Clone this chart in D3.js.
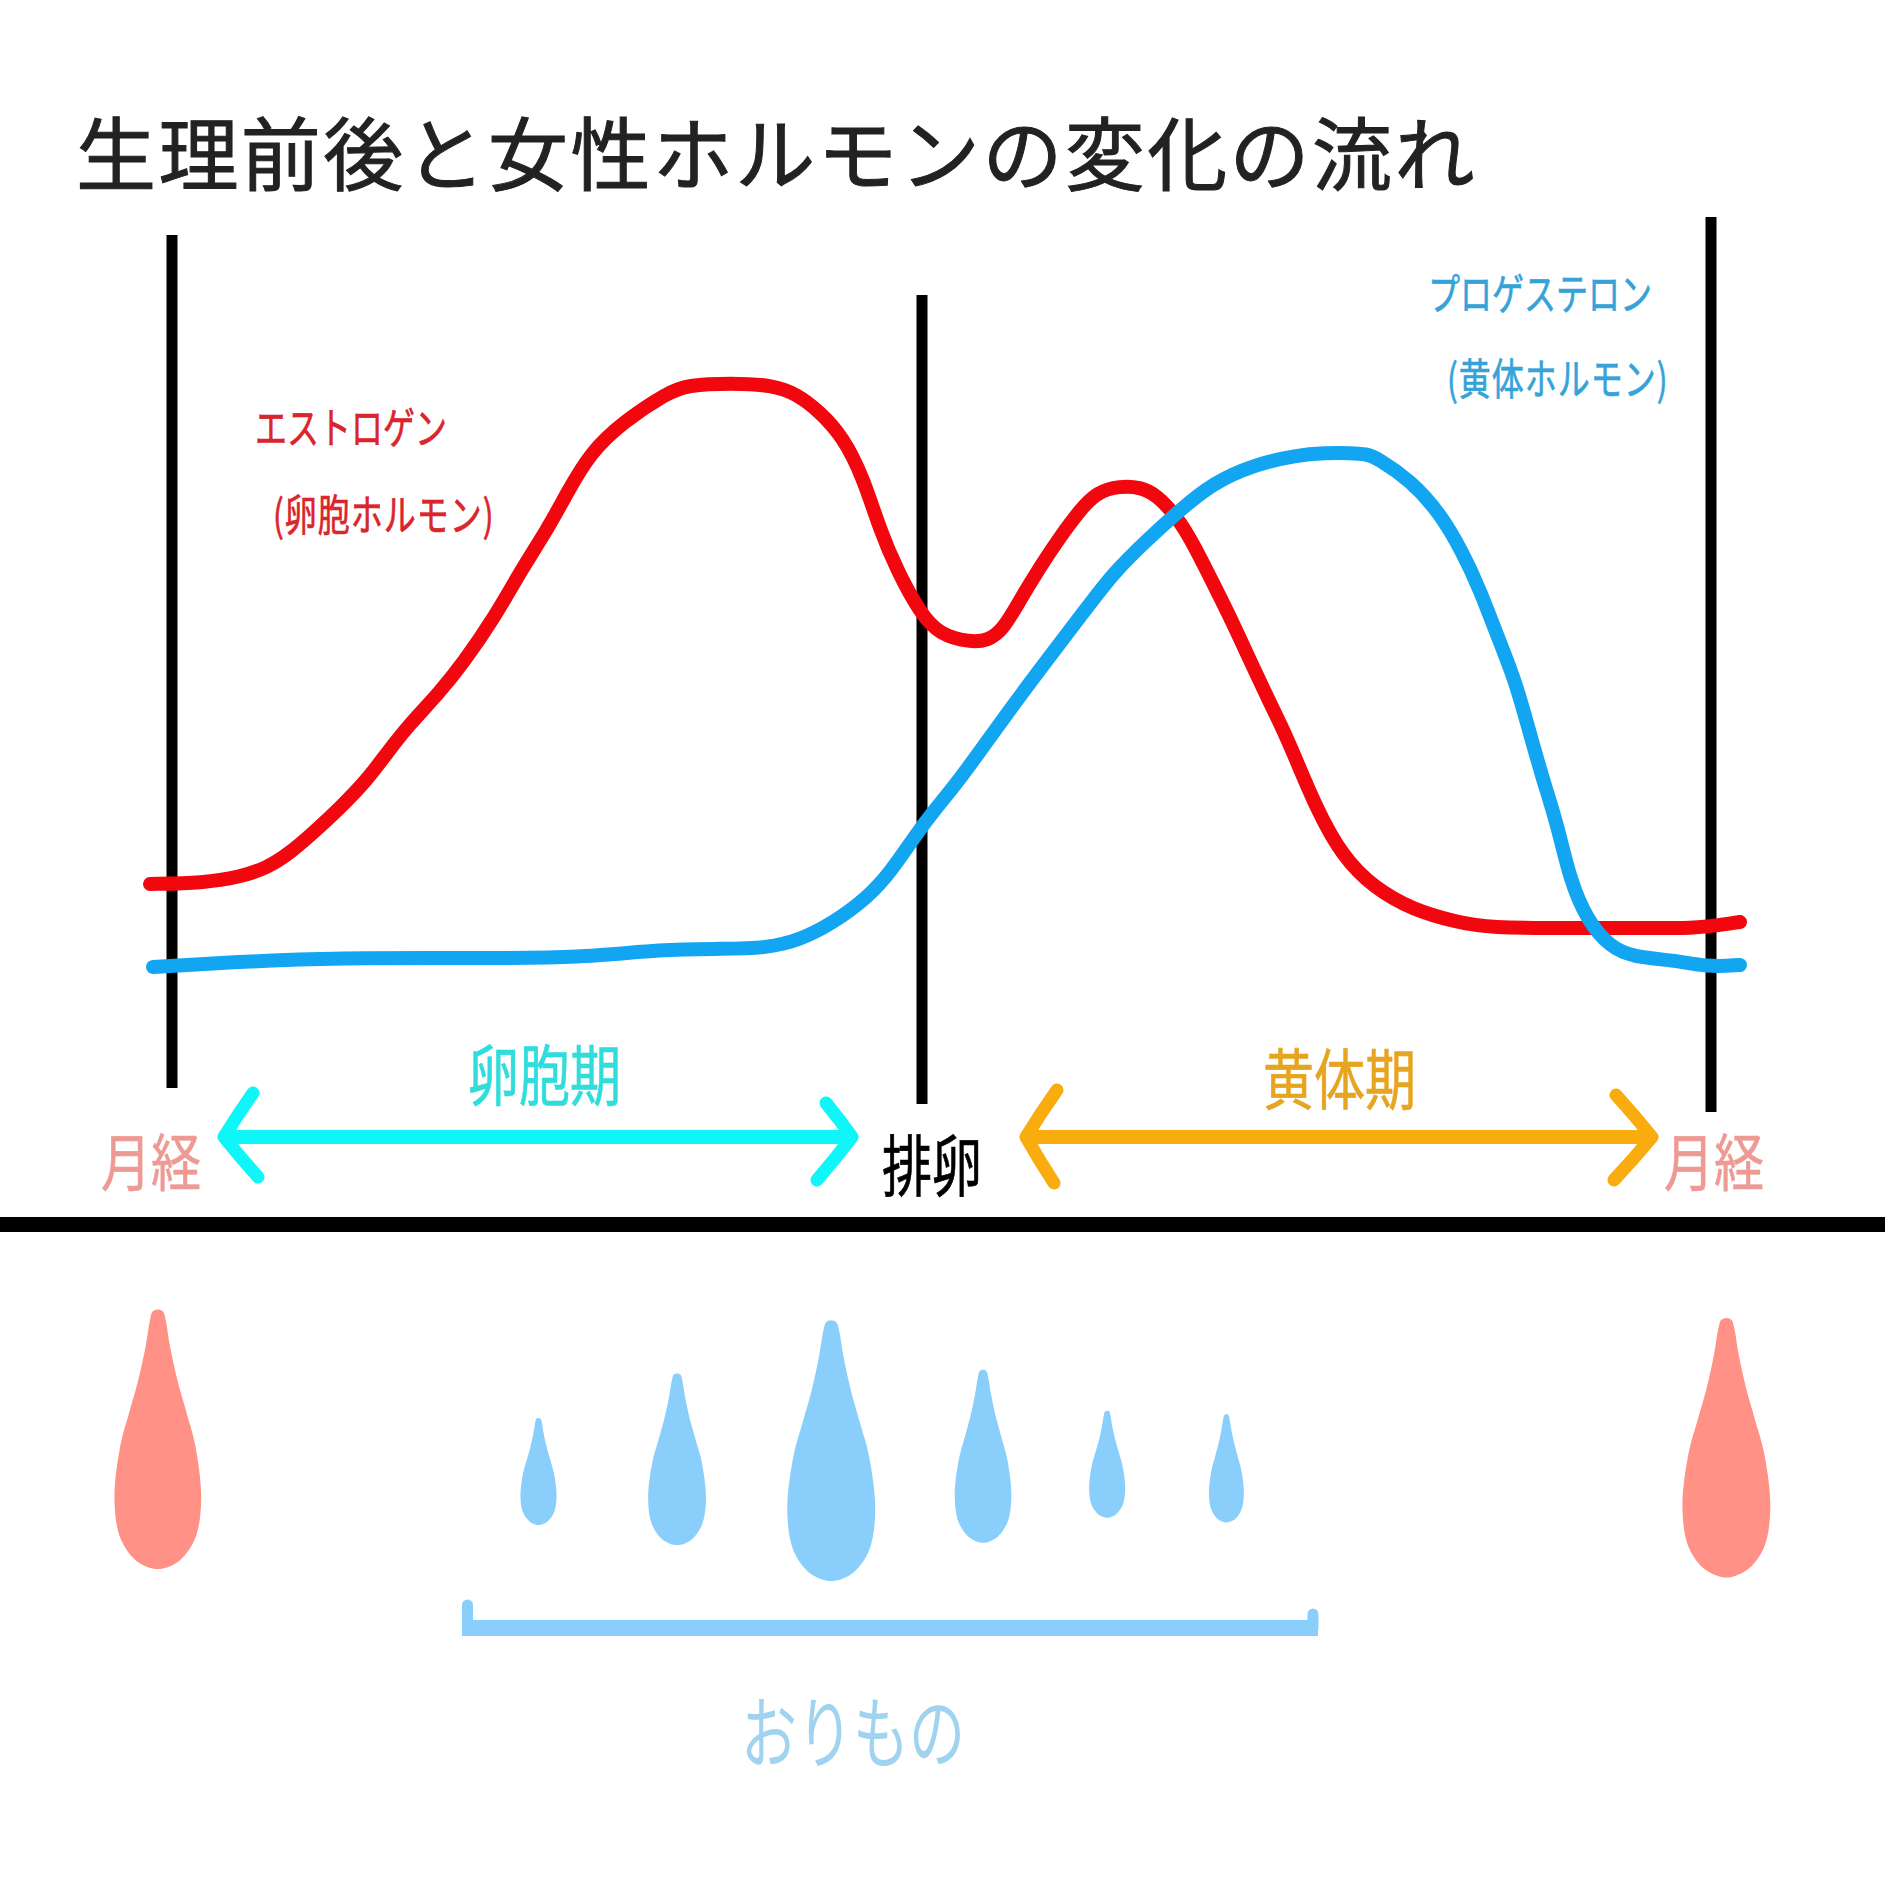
<!DOCTYPE html>
<html>
<head>
<meta charset="utf-8">
<script src="https://cdn.jsdelivr.net/npm/d3@7"></script>
<style>
  html, body { margin: 0; padding: 0; background: #fff; }
  text { font-family: "Noto Sans CJK JP", sans-serif; }
</style>
</head>
<body>
<div id="vis"></div>
<script>
const FRAME_SIZE = 1889;

// hormone curves (cycle position, level in arbitrary units)
const cyclePosEstrogen = [-22,31,68,95,118,141,168,195,215,235,268,291,321,351,375,395,418,451,495,515,560,600,625,648,671,691,708,725,748,768,798,815,831,848,868,888,908,925,948,968,985,1005,1021,1041,1061,1081,1098,1108,1121,1145,1171,1201,1241,1285,1315,1408,1480,1521,1541,1568];
const levelEstrogen = [116,117,123,132,147,167,192,220,247,273,308,337,380,433,470,507,547,578,607,615,617,615,606,588,563,523,470,430,387,365,358,359,370,400,433,463,490,508,514,513,505,483,457,417,377,333,297,277,248,190,143,113,90,78,72,72,72,72,74,78];
const cyclePosProgesterone = [-19,33,105,189,310,406,491,551,595,628,661,695,718,745,761,785,811,845,875,908,941,975,1008,1041,1081,1125,1153,1178,1195,1205,1238,1268,1291,1308,1325,1343,1355,1371,1385,1398,1415,1438,1461,1501,1535,1568];
const levelProgesterone = [33,36,40,42,42,42,51,51,52,60,77,102,127,167,188,217,253,300,340,383,427,460,490,517,535,545,547,547,546,542,520,487,447,410,365,320,277,220,177,120,80,53,43,40,33,35];

// vertical phase lines: cycle position, top level, bottom level
const phaseLinePos = [0, 750, 1539];
const phaseLineTop = [765, 705, 783];
const phaseLineBottom = [-88, -104, -112];

// phase arrows, with the two head arms as offsets from each tip
const arrowFrom = [46, 848];
const arrowTo = [686, 1486];
const arrowColors = ["#0ff6f8", "#f9ac0d"];
const arrowHeadLeft = [[[29, -44], [34, 40]], [[31, -47], [28, 46]]];
const arrowHeadRight = [[[-26, -34], [-35, 43]], [[-36, -42], [-38, 43]]];

// drops: centre, top, bottom, width (in picture units below the divider)
const dropCenter = [131, 447, 562, 690, 816, 919, 1018, 1433];
const dropTop = [1087, 1177, 1140, 1096, 1137, 1171, 1174, 1094];
const dropBottom = [1303, 1266, 1283, 1313, 1281, 1260, 1264, 1310];
const dropWidth = [72, 30, 48, 73, 47, 30, 29, 73];
const dropColors = ["#ff9186", "#8acffc", "#8acffc", "#8acffc", "#8acffc", "#8acffc", "#8acffc", "#ff9186"];

// teardrop outline: fraction of the height, half width as fraction of the width
const dropProfileT = [0, 0.008, 0.04, 0.14, 0.27, 0.39, 0.52, 0.73, 0.88, 0.965, 0.995];
const dropProfileW = [0, 0.06, 0.09, 0.14, 0.225, 0.325, 0.43, 0.5, 0.43, 0.25, 0.06];

const svg = d3.select("#vis")
  .append("svg")
    .attr("width", FRAME_SIZE)
    .attr("height", FRAME_SIZE)
    .style("display", "block");

svg.append("rect").attr("width", FRAME_SIZE).attr("height", FRAME_SIZE).attr("fill", "#fff");

// scales
const X_SCALE = d3.scaleLinear().domain([0, 1539]).range([172, 1711]);
const Y_SCALE = d3.scaleLinear().domain([0, 640]).range([1000, 360]);
const PIC = d3.scaleLinear().domain([0, 1568]).range([0, FRAME_SIZE]);

// title
svg.append("text")
    .attr("x", 76)
    .attr("y", 184)
    .attr("font-size", 80)
    .attr("letter-spacing", 2.4)
    .attr("fill", "#222")
    .attr("stroke", "#222")
    .attr("stroke-width", 1)
    .text("生理前後と女性ホルモンの変化の流れ");

// phase lines
svg.selectAll(".phase-line")
  .data(phaseLinePos)
  .enter()
  .append("line")
    .attr("class", "phase-line")
    .attr("x1", (d) => X_SCALE(d))
    .attr("x2", (d) => X_SCALE(d))
    .attr("y1", (d, i) => Y_SCALE(phaseLineTop[i]))
    .attr("y2", (d, i) => Y_SCALE(phaseLineBottom[i]))
    .attr("stroke", "#000")
    .attr("stroke-width", 11);

// hormone curves
const hormoneLine = d3.line()
  .x((d) => X_SCALE(d[0]))
  .y((d) => Y_SCALE(d[1]))
  .curve(d3.curveBasis);

svg.append("path")
    .attr("d", hormoneLine(d3.zip(cyclePosEstrogen, levelEstrogen)))
    .attr("fill", "none")
    .attr("stroke", "#f3070f")
    .attr("stroke-width", 14)
    .attr("stroke-linecap", "round")
    .attr("stroke-linejoin", "round");

svg.append("path")
    .attr("d", hormoneLine(d3.zip(cyclePosProgesterone, levelProgesterone)))
    .attr("fill", "none")
    .attr("stroke", "#12a5f2")
    .attr("stroke-width", 14)
    .attr("stroke-linecap", "round")
    .attr("stroke-linejoin", "round");

// double headed arrows
const ARROW_Y = Y_SCALE(-137);

function arrowHead(tipX, arms, bulge) {
  const [a, b] = arms;
  return "M" + (tipX + a[0]) + "," + (ARROW_Y + a[1]) +
    "Q" + (tipX + a[0] / 2 + bulge) + "," + (ARROW_Y + a[1] / 2) + " " + tipX + "," + ARROW_Y +
    "Q" + (tipX + b[0] / 2 + bulge) + "," + (ARROW_Y + b[1] / 2) + " " + (tipX + b[0]) + "," + (ARROW_Y + b[1]);
}

arrowFrom.forEach((from, i) => {
  const x1 = X_SCALE(from) + 6;
  const x2 = X_SCALE(arrowTo[i]) - 6;
  const g = svg.append("g")
    .attr("fill", "none")
    .attr("stroke", arrowColors[i])
    .attr("stroke-linecap", "round")
    .attr("stroke-linejoin", "round");
  g.append("line")
    .attr("x1", x1 + 4).attr("x2", x2 - 4)
    .attr("y1", ARROW_Y).attr("y2", ARROW_Y)
    .attr("stroke-width", 14);
  g.append("path")
    .attr("d", arrowHead(x1, arrowHeadLeft[i], -1))
    .attr("stroke-width", 13);
  g.append("path")
    .attr("d", arrowHead(x2, arrowHeadRight[i], 1))
    .attr("stroke-width", 13);
});

// divider
svg.append("line")
    .attr("x1", 0)
    .attr("x2", 1885)
    .attr("y1", 1224.5)
    .attr("y2", 1224.5)
    .attr("stroke", "#000")
    .attr("stroke-width", 15);

// drops
const dropOutline = d3.line().curve(d3.curveCatmullRomClosed.alpha(0.5));
dropCenter.forEach((c, i) => {
  const yAt = d3.scaleLinear().domain([0, 1]).range([PIC(dropTop[i]), PIC(dropBottom[i])]);
  const w = PIC(dropWidth[i]);
  const right = dropProfileT.map((t, j) => [PIC(c) + dropProfileW[j] * w, yAt(t)]);
  const left = dropProfileT.map((t, j) => [PIC(c) - dropProfileW[j] * w, yAt(t)]).slice(1).reverse();
  svg.append("path")
    .attr("d", dropOutline(right.concat(left)))
    .attr("fill", dropColors[i]);
});

// bracket under the drops
svg.append("path")
    .attr("d", "M467.5,1605L467.5,1628M1313,1614L1313,1628")
    .attr("fill", "none")
    .attr("stroke", "#8acffc")
    .attr("stroke-width", 11)
    .attr("stroke-linecap", "round");
svg.append("line")
    .attr("x1", 462).attr("x2", 1318)
    .attr("y1", 1628).attr("y2", 1628)
    .attr("stroke", "#8acffc")
    .attr("stroke-width", 16);

// labels
const labelText = ["エストロゲン", "(卵胞ホルモン)", "プロゲステロン", "(黄体ホルモン)", "卵胞期", "黄体期", "月経", "排卵", "月経", "おりもの"];
const labelX = [255, 273, 1428, 1447, 468, 1263, 101, 882, 1664, 741];
const labelY = [444, 531, 310, 395, 1100, 1104, 1186, 1191, 1186, 1762];
const labelSize = [32, 32, 32, 32, 51, 51, 50, 50, 50, 56];
const labelStretch = [1.35, 1.35, 1.35, 1.35, 1.3, 1.3, 1.25, 1.35, 1.25, 1.4];
const labelSpacing = [0, 1, 0, 1, 0, 0, 0, 0, 0, 0];
const labelStroke = [0.5, 0.5, 0.5, 0.5, 0.5, 0.5, 0.5, 0.5, 0.5, 0];
const labelColor = ["#d9252b", "#d9252b", "#35a3d8", "#35a3d8", "#30dcdc", "#e6a520", "#ee9a94", "#000", "#ee9a94", "#9fd3f0"];

svg.selectAll(".label")
  .data(labelText)
  .enter()
  .append("text")
    .attr("class", "label")
    .attr("transform", (d, i) => "translate(" + labelX[i] + "," + labelY[i] + ") scale(1," + labelStretch[i] + ")")
    .attr("font-size", (d, i) => labelSize[i])
    .attr("letter-spacing", (d, i) => labelSpacing[i])
    .attr("fill", (d, i) => labelColor[i])
    .attr("stroke", (d, i) => labelColor[i])
    .attr("stroke-width", (d, i) => labelStroke[i])
    .text((d) => d);
</script>
</body>
</html>
